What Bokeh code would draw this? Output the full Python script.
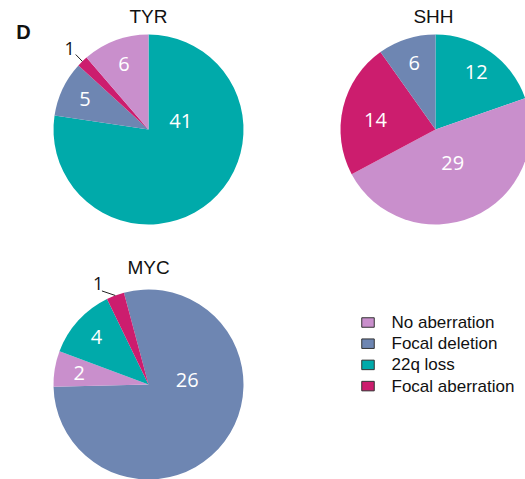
import math
from bokeh.plotting import figure
from bokeh.models import Range1d
from bokeh.core.properties import value
from bokeh.embed import file_html
from bokeh.resources import INLINE

# ---- data ----
categories = ["No aberration", "Focal deletion", "22q loss", "Focal aberration"]
colors = ["#C98FCC", "#6E86B2", "#00AAAA", "#CC1D6E"]
groups = ["TYR", "SHH", "MYC"]
tyr_counts = [6, 5, 41, 1]
shh_counts = [29, 6, 12, 14]
myc_counts = [2, 26, 4, 1]

# ---- layout (clockwise slice order, start angle, centre) ----
W, H = 525, 479
R = 95
layout = {
    "TYR": dict(counts=tyr_counts, order=[2, 1, 3, 0], start=0.0, cx=148, cy=129,
                big=(2, 76, 0.35)),
    "SHH": dict(counts=shh_counts, order=[2, 0, 3, 1], start=0.0, cx=435, cy=129,
                big=(0, 153, 0.40)),
    "MYC": dict(counts=myc_counts, order=[1, 0, 2, 3], start=-15.0, cx=148, cy=384,
                big=(1, 84, 0.41)),
}
title_pos = {"TYR": (148, 16), "SHH": (433, 16), "MYC": (148, 267)}
legend_x, legend_y0, legend_dy = 367.5, 322, 21.2

p = figure(width=W, height=H, output_backend="svg", toolbar_location=None,
           x_range=Range1d(0, W), y_range=Range1d(0, H), min_border=0)
p.axis.visible = False
p.grid.visible = False
p.outline_line_color = None
p.background_fill_color = "white"

def fy(py):
    return H - py

lx, ly, lt = [], [], []
ox, oy, ot = [], [], []
seg_x0, seg_y0, seg_x1, seg_y1 = [], [], [], []

for g in groups:
    L = layout[g]
    counts = L["counts"]
    total = sum(counts)
    cum = L["start"]
    xs, ys, sa, ea, fc = [], [], [], [], []
    for ci in L["order"]:
        v = counts[ci]
        span = v / total * 360.0
        a0, a1 = cum, cum + span
        cum = a1
        xs.append(L["cx"]); ys.append(fy(L["cy"]))
        sa.append(math.radians(90 - a0)); ea.append(math.radians(90 - a1))
        fc.append(colors[ci])
        mid = (a0 + a1) / 2
        if v == 1:
            r0, r1, r2 = 1.0 * R, 1.1 * R, 1.19 * R
            am = math.radians(mid - (6 if g == "MYC" else 0))
            ab = math.radians(mid)
            seg_x0.append(L["cx"] + r0 * math.sin(ab)); seg_y0.append(fy(L["cy"] - r0 * math.cos(ab)))
            seg_x1.append(L["cx"] + r1 * math.sin(am)); seg_y1.append(fy(L["cy"] - r1 * math.cos(am)))
            ox.append(L["cx"] + r2 * math.sin(am)); oy.append(fy(L["cy"] - r2 * math.cos(am)))
            ot.append(str(v))
        else:
            frac = 0.74
            ang = mid
            if ci == L["big"][0]:
                ang, frac = L["big"][1], L["big"][2]
            if g == "SHH" and ci == 3:
                frac, ang = 0.64, mid - 4
            a = math.radians(ang)
            lx.append(L["cx"] + frac * R * math.sin(a)); ly.append(fy(L["cy"] - frac * R * math.cos(a)))
            lt.append(str(v))
    p.wedge(x=xs, y=ys, radius=R, start_angle=sa, end_angle=ea, direction="clock",
            fill_color=fc, line_color=None)
    tx, ty = title_pos[g]
    p.text(x=[tx], y=[fy(ty)], text=[g], text_font=value("Liberation Sans"),
           text_font_size="19px", text_align="center", text_baseline="middle",
           text_color="#111111")

p.text(x=lx, y=ly, text=lt, text_font=value("Open Sans"), text_font_size="20px",
       text_align="center", text_baseline="middle", text_color="white")
p.segment(x0=seg_x0, y0=seg_y0, x1=seg_x1, y1=seg_y1, line_color="#222222", line_width=1)
p.text(x=ox, y=oy, text=ot, text_font=value("Open Sans"), text_font_size="18px",
       text_align="center", text_baseline="middle", text_color="#111111")

# panel letter
p.text(x=[23], y=[fy(31)], text=["D"], text_font=value("Liberation Sans"),
       text_font_size="20px", text_font_style="bold", text_align="center",
       text_baseline="middle", text_color="#111111")

# legend (drawn as marks)
ky = [fy(legend_y0 + i * legend_dy) for i in range(len(categories))]
p.rect(x=[legend_x] * len(categories), y=ky, width=12.5, height=9.5,
       fill_color=colors, line_color="#333333", line_width=1)
p.text(x=[legend_x + 23.5] * len(categories), y=ky, text=categories,
       text_font=value("Liberation Sans"), text_font_size="17px",
       text_align="left", text_baseline="middle", text_color="#111111")

open("out.html", "w").write(file_html(p, INLINE))
